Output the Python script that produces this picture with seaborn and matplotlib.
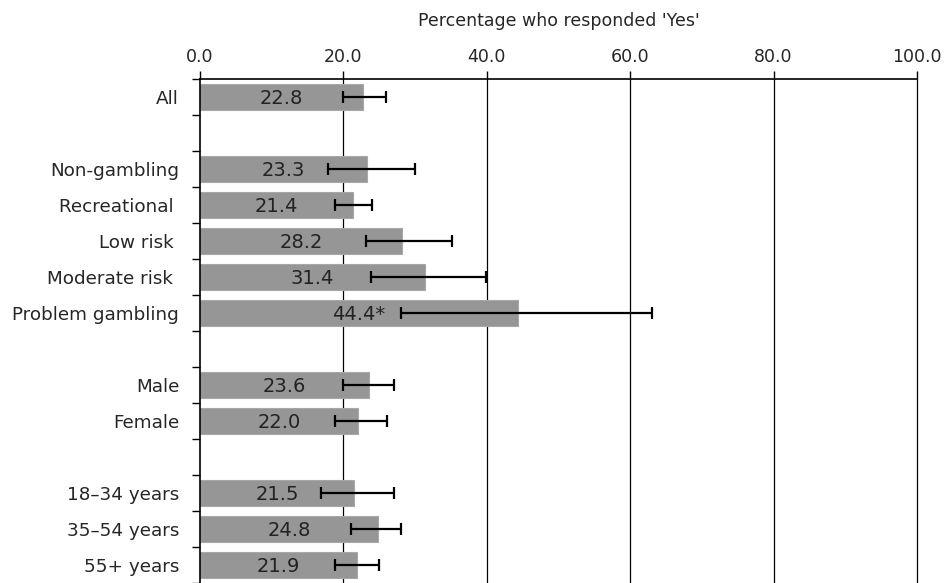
import numpy as np
import pandas as pd
import matplotlib
matplotlib.use("Agg")
import matplotlib.pyplot as plt
import seaborn as sns

# categories incl. blank spacer rows
groups = ["All", "", "Non-gambling", "Recreational ", "Low risk ", "Moderate risk ",
          "Problem gambling", " ", "Male", "Female", "  ",
          "18\u201334 years", "35\u201354 years", "55+ years"]
pct = [22.8, np.nan, 23.3, 21.4, 28.2, 31.4, 44.4, np.nan, 23.6, 22.0, np.nan,
       21.5, 24.8, 21.9]
ci_low = [19.9, np.nan, 17.9, 18.9, 23.1, 23.9, 28.0, np.nan, 19.9, 18.9, np.nan,
          16.9, 21.1, 18.9]
ci_high = [26.0, np.nan, 30.0, 24.0, 35.1, 39.9, 63.1, np.nan, 27.0, 26.1, np.nan,
           27.0, 28.0, 25.0]
bar_labels = ["22.8", "", "23.3", "21.4", "28.2", "31.4", "44.4*", "", "23.6", "22.0", "",
              "21.5", "24.8", "21.9"]
xticks = [0, 20, 40, 60, 80, 100]

df = pd.DataFrame({"group": groups, "pct": pct, "lo": ci_low, "hi": ci_high, "lab": bar_labels})

sns.set_style("white")
plt.rcParams["font.family"] = ["DejaVu Sans"]

fig = plt.figure(figsize=(9.45, 5.83), dpi=100)
ax = fig.add_axes([0.2116, 0.0, 0.7587, 0.8645])

sns.barplot(data=df.dropna(), x="pct", y="group", order=groups, orient="h",
            color="#969696", saturation=1, width=0.72, errorbar=None, ax=ax,
            edgecolor="#a8a8a8", linewidth=0.8, zorder=2)

pos = np.arange(len(groups))
d = df.dropna()
idx = d.index.values
ax.errorbar(d["pct"], pos[idx],
            xerr=[d["pct"] - d["lo"], d["hi"] - d["pct"]],
            fmt="none", ecolor="black", elinewidth=1.6, capsize=4.5, capthick=1.6, zorder=4)

for i, row in d.iterrows():
    ax.text(row["pct"] / 2, i + 0.04, row["lab"], ha="center", va="center",
            fontsize=14, color="#222222", zorder=5)

ax.set_xlim(0, 100)
ax.set_ylim(len(groups) - 0.5, -0.5)
ax.set_xticks(xticks)
ax.set_xticklabels([f"{v:.1f}" for v in xticks], fontsize=12.5)
ax.xaxis.tick_top()
ax.xaxis.set_label_position("top")
ax.set_xlabel("Percentage who responded 'Yes'", fontsize=12.5, labelpad=16)
ax.set_ylabel("")
ax.tick_params(axis="x", direction="out", length=6, width=1, color="black", pad=3, top=True, bottom=False)

ax.set_yticks(pos)
ax.set_yticklabels(groups, fontsize=13.2)
ax.set_yticks(np.arange(len(groups) + 1) - 0.5, minor=True)
ax.tick_params(axis="y", which="major", length=0, pad=15)
ax.tick_params(axis="y", which="minor", direction="out", length=6, width=1, color="black", left=True)

ax.grid(False)
for v in xticks[1:]:
    ax.axvline(v, color="black", linewidth=0.9, zorder=1, clip_on=False)

for s in ["right", "bottom"]:
    ax.spines[s].set_visible(False)
for s in ["top", "left"]:
    ax.spines[s].set_color("black")
    ax.spines[s].set_linewidth(1.2)

fig.savefig("out.png", dpi=100)
